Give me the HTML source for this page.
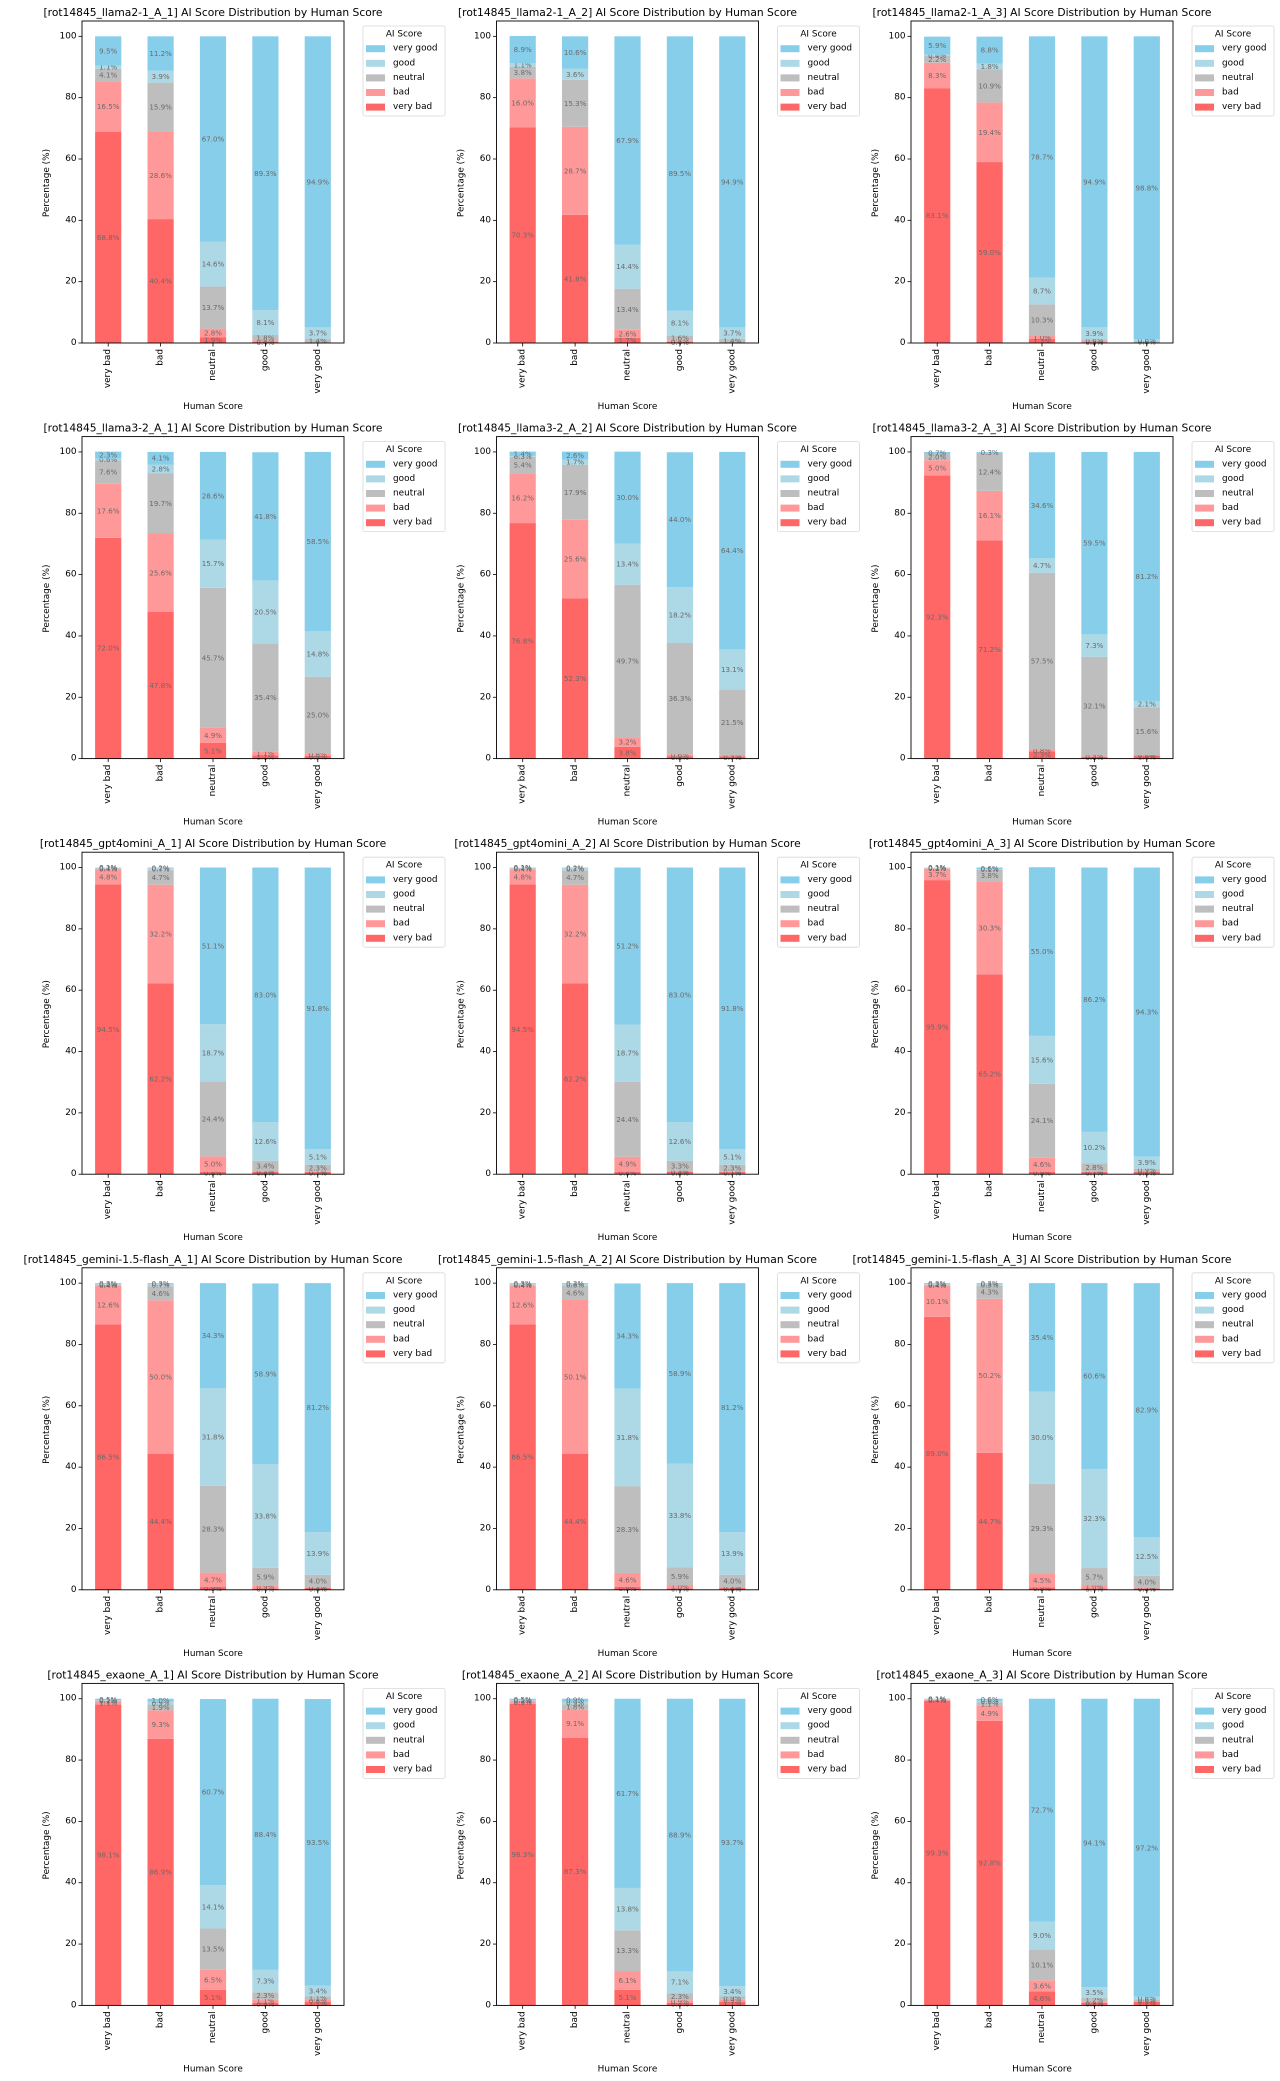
<!DOCTYPE html>
<html><head><meta charset="utf-8">
<style>
html,body{margin:0;padding:0;background:#fff;}
svg{display:block;font-family:"DejaVu Sans","Liberation Sans",sans-serif;}
</style></head>
<body>
<svg id="fig" width="1280" height="2081" viewBox="0 0 1280 2081" xmlns="http://www.w3.org/2000/svg"></svg>
<script>
const panelTitles = [
"[rot14845_llama2-1_A_1] AI Score Distribution by Human Score",
"[rot14845_llama2-1_A_2] AI Score Distribution by Human Score",
"[rot14845_llama2-1_A_3] AI Score Distribution by Human Score",
"[rot14845_llama3-2_A_1] AI Score Distribution by Human Score",
"[rot14845_llama3-2_A_2] AI Score Distribution by Human Score",
"[rot14845_llama3-2_A_3] AI Score Distribution by Human Score",
"[rot14845_gpt4omini_A_1] AI Score Distribution by Human Score",
"[rot14845_gpt4omini_A_2] AI Score Distribution by Human Score",
"[rot14845_gpt4omini_A_3] AI Score Distribution by Human Score",
"[rot14845_gemini-1.5-flash_A_1] AI Score Distribution by Human Score",
"[rot14845_gemini-1.5-flash_A_2] AI Score Distribution by Human Score",
"[rot14845_gemini-1.5-flash_A_3] AI Score Distribution by Human Score",
"[rot14845_exaone_A_1] AI Score Distribution by Human Score",
"[rot14845_exaone_A_2] AI Score Distribution by Human Score",
"[rot14845_exaone_A_3] AI Score Distribution by Human Score"
];
const humanCategories = ["very bad","bad","neutral","good","very good"];
const aiCategories = ["very bad","bad","neutral","good","very good"];
const yTicks = [0,20,40,60,80,100];
const veryBadPct = [
[68.8,40.4,1.9,0.4,0],[70.3,41.8,1.7,0.4,0],[83.1,59.0,1.3,0.3,0],
[72.0,47.8,5.1,1.1,0.9],[76.8,52.3,3.8,0.8,0.7],[92.3,71.2,2.3,0.6,1.0],
[94.5,62.2,0.8,0.8,0.7],[94.5,62.2,0.8,0.8,0.7],[95.9,65.2,0.8,0.7,0.8],
[86.5,44.4,0.9,0.4,0.6],[86.5,44.4,0.9,0.4,0.6],[89.0,44.7,0.8,0.4,0.4],
[98.1,86.9,5.1,0.9,1.1],[98.3,87.3,5.1,0.8,1.1],[99.3,92.8,4.6,0.8,1.2]];
const badPct = [
[16.5,28.6,2.8,0.4,0],[16.0,28.7,2.6,0.4,0],[8.3,19.4,1.0,0.3,0],
[17.6,25.6,4.9,1.1,0.8],[16.2,25.6,3.2,0.6,0.3],[5.0,16.1,0.8,0.5,0.1],
[4.8,32.2,5.0,0.2,0.1],[4.8,32.2,4.9,0.3,0.1],[3.7,30.3,4.6,0.1,0.1],
[12.6,50.0,4.7,0.9,0.3],[12.6,50.1,4.6,1.0,0.3],[10.1,50.2,4.5,1.0,0.2],
[1.1,9.3,6.5,1.1,0.8],[0.9,9.1,6.1,0.9,0.9],[0.4,4.9,3.6,0.4,0.2]];
const neutralPct = [
[4.1,15.9,13.7,1.8,1.4],[3.8,15.3,13.4,1.6,1.4],[2.2,10.9,10.3,0.6,0.6],
[7.6,19.7,45.7,35.4,25.0],[5.4,17.9,49.7,36.3,21.5],[2.0,12.4,57.5,32.1,15.6],
[0.4,4.7,24.4,3.4,2.3],[0.4,4.7,24.4,3.3,2.3],[0.2,3.8,24.1,2.8,0.9],
[0.4,4.6,28.3,5.9,4.0],[0.4,4.6,28.3,5.9,4.0],[0.4,4.3,29.3,5.7,4.0],
[0.2,1.9,13.5,2.3,1.1],[0.2,1.8,13.3,2.3,0.9],[0.1,1.1,10.1,1.2,0.6]];
const goodPct = [
[1.1,3.9,14.6,8.1,3.7],[1.1,3.6,14.4,8.1,3.7],[0.4,1.8,8.7,3.9,0.6],
[0.6,2.8,15.7,20.5,14.8],[0.3,1.7,13.4,18.2,13.1],[0,0,4.7,7.3,2.1],
[0.2,0.7,18.7,12.6,5.1],[0.2,0.7,18.7,12.6,5.1],[0.1,0.1,15.6,10.2,3.9],
[0.2,0.7,31.8,33.8,13.9],[0.2,0.6,31.8,33.8,13.9],[0.2,0.5,30.0,32.3,12.5],
[0.1,0.9,14.1,7.3,3.4],[0.1,0.9,13.8,7.1,3.4],[0.1,0.6,9.0,3.5,0.8]];
const veryGoodPct = [
[9.5,11.2,67.0,89.3,94.9],[8.9,10.6,67.9,89.5,94.9],[5.9,8.8,78.7,94.9,98.8],
[2.3,4.1,28.6,41.8,58.5],[1.4,2.6,30.0,44.0,64.4],[0.7,0.3,34.6,59.5,81.2],
[0.1,0.2,51.1,83.0,91.8],[0.1,0.2,51.2,83.0,91.8],[0.1,0.6,55.0,86.2,94.3],
[0.3,0.3,34.3,58.9,81.2],[0.3,0.3,34.3,58.9,81.2],[0.3,0.3,35.4,60.6,82.9],
[0.5,1.0,60.7,88.4,93.5],[0.5,0.9,61.7,88.9,93.7],[0.1,0.6,72.7,94.1,97.2]];

const NS="http://www.w3.org/2000/svg";
const svg=document.getElementById('fig');
const colors=["#ff6666","#ff9999","#bebebe","#add8e6","#87ceeb"];
const seriesList=[veryBadPct,badPct,neutralPct,goodPct,veryGoodPct];
function mk(tag,attrs,parent){const e=document.createElementNS(NS,tag);for(const k in attrs)e.setAttribute(k,attrs[k]);(parent||svg).appendChild(e);return e;}
const AX_L=82,AX_R=344,AX_T=21,AX_B=343,YMAX=105;
const COLW=414.5,ROWH=415.6;

panelTitles.forEach((title,p)=>{
  const r=Math.floor(p/3),c=p%3;
  const g=mk('g',{transform:`translate(${c*COLW},${r*ROWH})`});
  
  
  const yS=v=>AX_B-(v/YMAX)*(AX_B-AX_T);
  const step=(AX_R-AX_L)/humanCategories.length;
  const xS=i=>AX_L+(i+0.5)*step;
  const bw=step*0.5;
  const t=mk('text',{x:(AX_L+AX_R)/2,y:16,'text-anchor':'middle','font-size':'10.7',fill:'#000'},g);
  t.textContent=title;
  
  
  humanCategories.forEach((hc,i)=>{
    let base=0;
    seriesList.forEach((ser,s)=>{
      const v=ser[p][i];
      const y0=yS(base),y1=yS(base+v);
      const rect=mk('rect',{x:xS(i)-bw/2,y:y1,width:bw,height:Math.max(0,y0-y1),fill:colors[s]},g);
      
      
      if(v>0){
        const lb=mk('text',{x:xS(i),y:(y0+y1)/2,'text-anchor':'middle','dominant-baseline':'central','font-size':'7.1',fill:'#6a6a6a'},g);
        lb.textContent=v.toFixed(1)+'%';
        
        
      }
      base+=v;
    });
    mk('line',{x1:xS(i),x2:xS(i),y1:AX_B,y2:AX_B+3.5,stroke:'#000','stroke-width':0.8},g);
    const xl=mk('text',{x:xS(i),y:AX_B+6,'text-anchor':'end','dominant-baseline':'central','font-size':'8.9',fill:'#000',transform:`rotate(-90 ${xS(i)} ${AX_B+6})`},g);
    xl.textContent=hc;
    
    
  });
  yTicks.forEach(v=>{
    mk('line',{x1:AX_L-3.5,x2:AX_L,y1:yS(v),y2:yS(v),stroke:'#000','stroke-width':0.8},g);
    const tl=mk('text',{x:AX_L-5.5,y:yS(v),'text-anchor':'end','dominant-baseline':'central','font-size':'8.9',fill:'#000'},g);
    tl.textContent=v;
    
    
  });
  const fr=mk('rect',{x:AX_L,y:AX_T,width:AX_R-AX_L,height:AX_B-AX_T,fill:'none',stroke:'#000','stroke-width':0.9},g);
  
  
  const xt=mk('text',{x:(AX_L+AX_R)/2,y:407,'text-anchor':'middle','dominant-baseline':'central','font-size':'8.9',fill:'#000'},g);
  xt.textContent='Human Score';
  
  
  const yt=mk('text',{x:47,y:183,'text-anchor':'middle','dominant-baseline':'central','font-size':'8.9',fill:'#000',transform:'rotate(-90 47 183)'},g);
  yt.textContent='Percentage (%)';
  
  
  const lg=mk('g',{},g);
  
  
  mk('rect',{x:363,y:26,width:82,height:90,rx:2,fill:'#fff',stroke:'#d8d8d8','stroke-width':0.8},lg);
  const ltt=mk('text',{x:404,y:34.5,'text-anchor':'middle','dominant-baseline':'central','font-size':'8.9',fill:'#000'},lg);
  ltt.textContent='AI Score';
  
  
  for(let k=0;k<5;k++){
    const s=4-k;
    const cy=48.7+k*14.6;
    const e=mk('g',{},lg);
    
    
    mk('rect',{x:366,y:cy-3.5,width:19,height:7,fill:colors[s]},e);
    const et=mk('text',{x:393,y:cy,'dominant-baseline':'central','font-size':'8.9',fill:'#000'},e);
    et.textContent=aiCategories[s];
  }
});
</script>
</body></html>
